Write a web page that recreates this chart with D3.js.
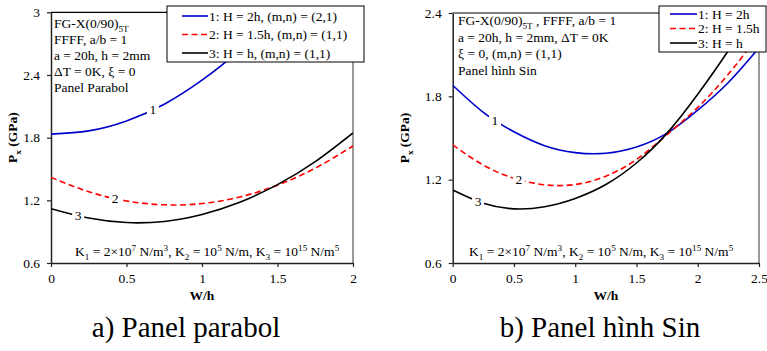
<!DOCTYPE html>
<html><head><meta charset="utf-8">
<script src="https://cdn.jsdelivr.net/npm/d3@7"></script>
<style>
body{margin:0;background:#fff}
svg{display:block}
svg text{font-family:"Liberation Serif","Tinos","Times New Roman",Times,"DejaVu Serif","Noto Serif",serif !important;fill:#000}
</style>
</head><body>
<svg id="c" width="767" height="351"></svg>
<script>
// ---------- DATA ----------
// Panel a) parabol
const xTicksA = [0, 0.5, 1, 1.5, 2];
const yTicksA = [0.6, 1.2, 1.8, 2.4, 3];
const wA1 = [0, 0.25, 0.5, 0.75, 1, 1.25, 1.5];
const pA1 = [1.834, 1.865, 1.96, 2.12, 2.35, 2.64, 3.0];
const wA = [0, 0.25, 0.5, 0.75, 1, 1.25, 1.5, 1.75, 2];
const pA2 = [1.42, 1.282, 1.194, 1.157, 1.169, 1.232, 1.345, 1.508, 1.72];
const pA3 = [1.12, 1.03, 0.987, 0.998, 1.065, 1.182, 1.35, 1.57, 1.845];
const legendA = ["1: H = 2h, (m,n) = (2,1)", "2: H = 1.5h, (m,n) = (1,1)", "3: H = h, (m,n) = (1,1)"];
const curveLabelWA = [0.675, 0.424, 0.18];

// Panel b) hình Sin
const xTicksB = [0, 0.5, 1, 1.5, 2, 2.5];
const yTicksB = [0.6, 1.2, 1.8, 2.4];
const wB = [0, 0.25, 0.5, 0.75, 1, 1.25, 1.5, 1.75, 2, 2.25, 2.5];
const pB1 = [1.88, 1.685, 1.545, 1.445, 1.395, 1.39, 1.435, 1.535, 1.70, 1.90, 2.15];
const pB2 = [1.45, 1.305, 1.21, 1.163, 1.165, 1.225, 1.345, 1.525, 1.72, 1.96, 2.24];
const pB3 = [1.125, 1.03, 0.99, 1.005, 1.065, 1.165, 1.32, 1.535, 1.815, 2.13, 2.48];
const legendB = ["1: H = 2h", "2: H = 1.5h", "3: H = h"];
const curveLabelWB = [0.345, 0.54, 0.207];
const curveNames = ["1", "2", "3"];

// annotation texts: [text, kind]
const infoA = [
  [["FG-X(0/90)", "n"], ["5T", "sub"]],
  [["FFFF, a/b = 1", "n"]],
  [["a = 20h, h = 2mm", "n"]],
  [["ΔT = 0K, ξ = 0", "n"]],
  [["Panel Parabol", "n"]]
];
const infoB = [
  [["FG-X(0/90)", "n"], ["5T", "sub"], [" , FFFF, a/b = 1", "n"]],
  [["a = 20h, h = 2mm, ΔT = 0K", "n"]],
  [["ξ = 0, (m,n) = (1,1)", "n"]],
  [["Panel hình Sin", "n"]]
];
const kText = [["K", "n"], ["1", "sub"], [" = 2×10", "n"], ["7", "sup"], [" N/m", "n"], ["3", "sup"],
  [", K", "n"], ["2", "sub"], [" = 10", "n"], ["5", "sup"], [" N/m, K", "n"], ["3", "sub"],
  [" = 10", "n"], ["15", "sup"], [" N/m", "n"], ["5", "sup"]];
const yTitle = [["P", "n"], ["x", "sub"], [" (GPa)", "n"]];
const xTitle = "W/h";
const captions = ["a) Panel parabol", "b) Panel hình Sin"];

// ---------- DRAWING ----------
const svg = d3.select("#c");
const FS = 13.5;
const FONT = '"Liberation Serif","Tinos","Times New Roman",Times,"DejaVu Serif",serif';
const styles = [
  {stroke: "#0000cc", dash: null},
  {stroke: "#ff0000", dash: "6,3.5"},
  {stroke: "#000000", dash: null}
];

function rich(sel, parts, size) {
  let state = 0;
  parts.forEach(([t, k]) => {
    const ts = sel.append("tspan").text(t);
    const target = k === "sub" ? 3.5 : k === "sup" ? -5 : 0;
    const dy = target - state; state = target;
    if (dy) ts.attr("dy", dy);
    if (k !== "n") ts.attr("font-size", size * 0.68);
  });
}

function interp(ws, ps, w) {
  for (let i = 0; i < ws.length - 1; i++) {
    if (w >= ws[i] && w <= ws[i + 1]) {
      const t = (w - ws[i]) / (ws[i + 1] - ws[i]);
      return ps[i] + t * (ps[i + 1] - ps[i]);
    }
  }
  return ps[ps.length - 1];
}

const panels = [
  {id: "a", L: 51, R: 353, T: 12.3, B: 263, xDom: [0, 2], yDom: [0.6, 3], xt: xTicksA, yt: yTicksA,
   series: [[wA1, pA1], [wA, pA2], [wA, pA3]], labW: curveLabelWA,
   info: infoA, infoX: 54, infoY: 28, infoDy: 16,
   kX: 75, kY: 256,
   leg: legendA, legBox: [167, 6, 197, 56], legY0: 16, legDy: 18.5, legL: 182, legR: 208,
   yTitleX: 17, cap: captions[0], capX: 186},
  {id: "b", L: 452.7, R: 759, T: 13, B: 263, xDom: [0, 2.5], yDom: [0.6, 2.4], xt: xTicksB, yt: yTicksB,
   series: [[wB, pB1], [wB, pB2], [wB, pB3]], labW: curveLabelWB,
   info: infoB, infoX: 458, infoY: 25, infoDy: 16.7,
   kX: 469, kY: 256,
   leg: legendB, legBox: [659, 6, 107, 46], legY0: 14, legDy: 14.5, legL: 670, legR: 697,
   yTitleX: 409, cap: captions[1], capX: 600}
];

panels.forEach(P => {
  const x = d3.scaleLinear().domain(P.xDom).range([P.L, P.R]);
  const y = d3.scaleLinear().domain(P.yDom).range([P.B, P.T]);
  const g = svg.append("g").attr("font-family", FONT);

  g.append("clipPath").attr("id", "clip" + P.id)
    .append("rect").attr("x", P.L).attr("y", P.T).attr("width", P.R - P.L).attr("height", P.B - P.T);

  // top & right frame
  g.append("line").attr("x1", P.L).attr("x2", P.R).attr("y1", P.T).attr("y2", P.T)
    .attr("stroke", "#000").attr("stroke-width", 1.2);
  g.append("line").attr("x1", P.R).attr("x2", P.R).attr("y1", P.T).attr("y2", P.B)
    .attr("stroke", "#777").attr("stroke-width", 1.5);

  // axes
  const xa = g.append("g").attr("transform", `translate(0,${P.B})`)
    .call(d3.axisBottom(x).tickValues(P.xt).tickSize(4).tickPadding(6).tickSizeOuter(0).tickFormat(d3.format("")));
  const ya = g.append("g").attr("transform", `translate(${P.L},0)`)
    .call(d3.axisLeft(y).tickValues(P.yt).tickSize(4).tickPadding(7).tickSizeOuter(0).tickFormat(d3.format("")));
  [xa, ya].forEach(a => {
    a.attr("font-family", FONT).attr("font-size", FS);
    a.select(".domain").attr("stroke", "#222").attr("stroke-width", 1.5);
    a.selectAll(".tick line").attr("stroke", "#222").attr("stroke-width", 1.2);
    a.selectAll("text").attr("font-size", FS).attr("fill", "#000");
  });

  // curves
  const line = d3.line().x(d => x(d[0])).y(d => y(d[1])).curve(d3.curveNatural);
  const cg = g.append("g").attr("clip-path", `url(#clip${P.id})`);
  P.series.forEach((s, i) => {
    const pts = s[0].map((w, j) => [w, s[1][j]]);
    cg.append("path").attr("d", line(pts)).attr("fill", "none")
      .attr("stroke", styles[i].stroke).attr("stroke-width", 1.6)
      .attr("stroke-dasharray", styles[i].dash);
  });

  // curve labels
  P.series.forEach((s, i) => {
    const w = P.labW[i];
    const cx = x(w), cy = y(interp(s[0], s[1], w));
    g.append("rect").attr("x", cx - 6).attr("y", cy - 7).attr("width", 12).attr("height", 14).attr("fill", "#fff");
    g.append("text").attr("x", cx).attr("y", cy + 5).attr("text-anchor", "middle")
      .attr("font-size", FS).text(curveNames[i]);
  });

  // info text
  P.info.forEach((parts, i) => {
    const t = g.append("text").attr("x", P.infoX).attr("y", P.infoY + i * P.infoDy).attr("font-size", FS);
    rich(t, parts, FS);
  });
  const kt = g.append("text").attr("x", P.kX).attr("y", P.kY).attr("font-size", FS);
  rich(kt, kText, FS);

  // legend
  const lb = P.legBox;
  g.append("rect").attr("x", lb[0]).attr("y", lb[1]).attr("width", lb[2]).attr("height", lb[3])
    .attr("fill", "#fff").attr("stroke", "#000").attr("stroke-width", 1);
  P.leg.forEach((t, i) => {
    const yy = P.legY0 + i * P.legDy;
    g.append("line").attr("x1", P.legL).attr("x2", P.legR).attr("y1", yy).attr("y2", yy)
      .attr("stroke", styles[i].stroke).attr("stroke-width", 1.6).attr("stroke-dasharray", styles[i].dash);
    g.append("text").attr("x", P.legR + 1).attr("y", yy + 4.5).attr("font-size", FS).text(t);
  });

  // axis titles
  g.append("text").attr("x", (P.L + P.R) / 2).attr("y", 300).attr("text-anchor", "middle")
    .attr("font-size", FS).attr("font-weight", "bold").text(xTitle);
  const yt = g.append("text").attr("transform", `translate(${P.yTitleX},${(P.T + P.B) / 2}) rotate(-90)`)
    .attr("text-anchor", "middle").attr("font-size", FS).attr("font-weight", "bold");
  rich(yt, yTitle, FS);

  // caption
  g.append("text").attr("x", P.capX).attr("y", 337).attr("text-anchor", "middle")
    .attr("font-size", 29).text(P.cap);
});
</script>
</body></html>
